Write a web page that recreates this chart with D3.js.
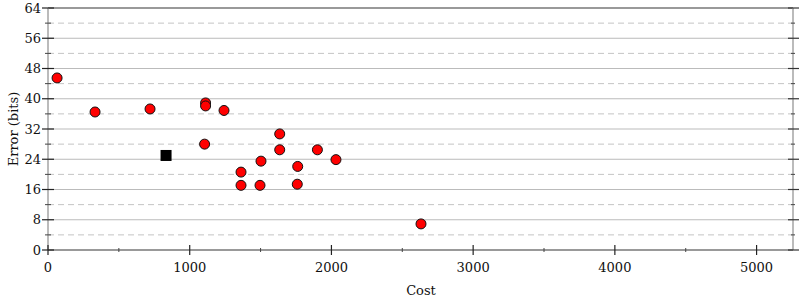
<!DOCTYPE html>
<html><head><meta charset="utf-8">
<script src="https://cdn.jsdelivr.net/npm/d3@7"></script>
<style>body{margin:0;background:#fff}svg{display:block}</style>
</head><body>
<script>
const costs  = [64, 332, 720, 1112, 1112, 1242, 1105, 1362, 1362, 1496, 1503, 1635, 1635, 1762, 1759, 1901, 2032, 2632];
const errors = [45.5, 36.5, 37.3, 38.9, 38.1, 36.9, 28.0, 20.6, 17.1, 17.1, 23.5, 30.7, 26.5, 22.1, 17.4, 26.5, 23.9, 6.9];
const refCost = [833];
const refError = [25.0];
const xTicks = [0, 1000, 2000, 3000, 4000, 5000];
const xMinor = [500, 1500, 2500, 3500, 4500];
const yTicks = [0, 8, 16, 24, 32, 40, 48, 56, 64];
const yMinor = [4, 12, 20, 28, 36, 44, 52, 60];

const W = 800, H = 300, m = {l: 48, r: 7, t: 8, b: 50};
const svg = d3.select("body").append("svg").attr("width", W).attr("height", H)
  .style("font-family", "'DejaVu Serif', serif");
const x = d3.scaleLinear().domain([0, 5257]).range([m.l, W - m.r]);
const y = d3.scaleLinear().domain([0, 64]).range([H - m.b, m.t]);

const g = svg.append("g");
// grid
g.selectAll(".gs").data(yTicks.filter(d => d > 0 && d < 64)).join("line")
  .attr("x1", m.l).attr("x2", W - m.r).attr("y1", d => y(d)).attr("y2", d => y(d))
  .attr("stroke", d => d === 32 ? "#dddddd" : "#bbbbbb").attr("stroke-width", d => d === 32 ? 2 : 1);
g.selectAll(".gd").data(yMinor).join("line")
  .attr("x1", m.l).attr("x2", W - m.r).attr("y1", d => y(d)).attr("y2", d => y(d))
  .attr("stroke", "#c4c4c4").attr("stroke-dasharray", "6,4");

// borders
g.append("line").attr("x1", m.l).attr("x2", W - m.r).attr("y1", y(64)).attr("y2", y(64))
  .attr("stroke", "#999").attr("stroke-width", 2);
g.append("line").attr("x1", x(0)).attr("x2", x(0)).attr("y1", y(0)).attr("y2", y(64))
  .attr("stroke", "#bbb").attr("stroke-width", 2);
g.append("line").attr("x1", W - m.r).attr("x2", W - m.r).attr("y1", y(0)).attr("y2", y(64))
  .attr("stroke", "#bbb").attr("stroke-width", 2);
g.append("line").attr("x1", m.l).attr("x2", W - m.r).attr("y1", y(0)).attr("y2", y(0))
  .attr("stroke", "#999").attr("stroke-width", 2);

// left ticks
g.selectAll(".lt").data(yTicks).join("line")
  .attr("x1", m.l - 6).attr("x2", m.l + 6).attr("y1", d => y(d)).attr("y2", d => y(d))
  .attr("stroke", "#222").attr("stroke-width", 1.2);
g.selectAll(".lm").data(yMinor).join("line")
  .attr("x1", m.l - 3).attr("x2", m.l + 3).attr("y1", d => y(d)).attr("y2", d => y(d))
  .attr("stroke", "#444");
// right ticks
g.selectAll(".rt").data(yTicks).join("line")
  .attr("x1", W - m.r - 5).attr("x2", W - m.r + 6).attr("y1", d => y(d)).attr("y2", d => y(d))
  .attr("stroke", "#333").attr("stroke-width", 1.2);
g.selectAll(".rm").data(yMinor).join("line")
  .attr("x1", W - m.r - 2).attr("x2", W - m.r + 2).attr("y1", d => y(d)).attr("y2", d => y(d))
  .attr("stroke", "#444");
// x ticks
g.selectAll(".xt").data(xTicks).join("line")
  .attr("x1", d => x(d)).attr("x2", d => x(d)).attr("y1", y(0) - 5).attr("y2", y(0) + 5)
  .attr("stroke", "#222").attr("stroke-width", 1.2);
g.selectAll(".xm").data(xMinor).join("line")
  .attr("x1", d => x(d)).attr("x2", d => x(d)).attr("y1", y(0) - 2).attr("y2", y(0) + 2)
  .attr("stroke", "#444");

// labels
g.selectAll(".yl").data(yTicks).join("text")
  .attr("x", m.l - 7).attr("y", d => y(d)).attr("dy", "0.35em").attr("text-anchor", "end")
  .attr("font-size", 13).attr("fill", "#111").text(d => d);
g.selectAll(".xl").data(xTicks).join("text")
  .attr("x", d => x(d)).attr("y", y(0) + 22).attr("text-anchor", "middle")
  .attr("font-size", 13).attr("fill", "#111").text(d => d);
svg.append("text").attr("x", 421).attr("y", 295).attr("text-anchor", "middle")
  .attr("font-size", 13).attr("fill", "#111").text("Cost");
svg.append("text").attr("transform", `translate(13,${y(32)}) rotate(-90)`).attr("text-anchor", "middle")
  .attr("dy", "0.35em").attr("font-size", 13).attr("fill", "#111").text("Error (bits)");

// points
g.selectAll(".pt").data(costs.map((c, i) => [c, errors[i]])).join("circle")
  .attr("cx", d => x(d[0])).attr("cy", d => y(d[1])).attr("r", 5)
  .attr("fill", "#ff0000").attr("stroke", "#111").attr("stroke-width", 1);
g.selectAll(".sq").data(refCost.map((c, i) => [c, refError[i]])).join("rect")
  .attr("x", d => x(d[0]) - 5.5).attr("y", d => y(d[1]) - 5.5).attr("width", 11).attr("height", 11)
  .attr("fill", "#000");
</script>
</body></html>
